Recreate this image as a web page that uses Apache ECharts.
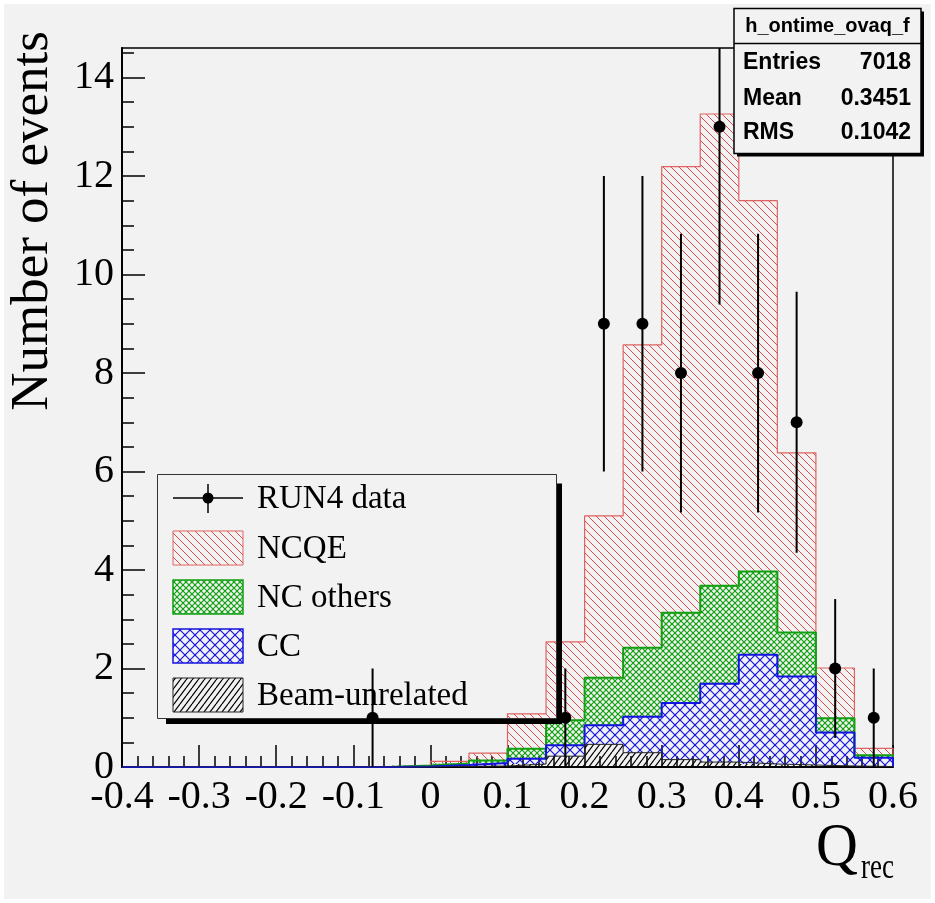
<!DOCTYPE html>
<html>
<head>
<meta charset="utf-8">
<script src="https://cdn.jsdelivr.net/npm/echarts@6/dist/echarts.min.js"></script>
<style>
  html, body { margin: 0; padding: 0; background: #ffffff; }
  #chart { width: 935px; height: 903px; }
</style>
</head>
<body>
<div id="chart"></div>
<script>
// Q_rec histogram: 20 bins of width 0.05 between -0.4 and 0.6
const binWidth = 0.05;
const binLow = [-0.40, -0.35, -0.30, -0.25, -0.20, -0.15, -0.10, -0.05, 0.00, 0.05,
                 0.10,  0.15,  0.20,  0.25,  0.30,  0.35,  0.40,  0.45, 0.50, 0.55];

// Expected events per bin, by component (bottom of the stack first)
const beamUnrelated = [0, 0, 0, 0, 0, 0, 0, 0.00, 0.01, 0.02, 0.06, 0.22, 0.46, 0.29, 0.15, 0.10, 0.06, 0.04, 0.02, 0.01];
const ccEvents      = [0, 0, 0, 0, 0, 0, 0, 0.01, 0.03, 0.06, 0.11, 0.22, 0.39, 0.73, 1.15, 1.59, 2.22, 1.80, 0.68, 0.18];
const ncOthers      = [0, 0, 0, 0, 0, 0, 0, 0.02, 0.03, 0.05, 0.20, 0.51, 0.96, 1.40, 1.83, 1.99, 1.69, 0.89, 0.29, 0.05];
const ncqeEvents    = [0, 0, 0, 0, 0, 0, 0, 0.00, 0.045, 0.15, 0.71, 1.59, 3.29, 6.15, 9.06, 9.58, 7.53, 3.65, 1.02, 0.14];

// RUN4 data: bin centres, counts and statistical errors
const dataCenters = [-0.075, 0.175, 0.225, 0.275, 0.325, 0.375, 0.425, 0.475, 0.525, 0.575];
const dataCounts  = [1, 1, 9, 9, 8, 13, 8, 7, 2, 1];
const dataErrors  = [1, 1, 3, 3, 2.83, 3.61, 2.83, 2.65, 1.41, 1];

// Axis ticks and texts
const yMajorTicks = [0, 2, 4, 6, 8, 10, 12, 14];
const legendLabels = ['RUN4 data', 'NCQE', 'NC others', 'CC', 'Beam-unrelated'];
const statsTitle = 'h_ontime_ovaq_f';
const statsRows = [['Entries', '7018'], ['Mean', '0.3451'], ['RMS', '0.1042']];

const BG = '#f2f2f2';
const RED = '#e04a4a', RED_LINE = '#e06262';
const GREEN = '#10a010';
const BLUE = '#1414e0';
const SERIF = '"Liberation Serif", "DejaVu Serif", serif';
const SANS = '"Liberation Sans", Arial, sans-serif';

// Hatch tiles drawn on a small canvas and used as repeating fill patterns
function hatchTile(w, h, color, dirs, lw) {
  const c = document.createElement('canvas');
  c.width = w; c.height = h;
  const g = c.getContext('2d');
  g.strokeStyle = color;
  g.lineWidth = lw;
  dirs.forEach(function (d) {
    [-w, 0, w].forEach(function (dx) {
      g.beginPath();
      if (d === 'down') { g.moveTo(dx, 0); g.lineTo(dx + w, h); }
      else { g.moveTo(dx, h); g.lineTo(dx + w, 0); }
      g.stroke();
    });
  });
  return { image: c, repeat: 'repeat' };
}
const patRed = hatchTile(8, 8, RED, ['down'], 1);
const patGreen = hatchTile(6, 6, GREEN, ['down', 'up'], 1.2);
const patBlue = hatchTile(10, 10, BLUE, ['down', 'up'], 1.2);
const patBlack = hatchTile(6, 8, '#000', ['up'], 1.2);

// Cumulative stack levels
function addArr(a, b) { return a.map(function (v, i) { return v + b[i]; }); }
const lvl0 = binLow.map(function () { return 0; });
const lvlBeam = addArr(lvl0, beamUnrelated);
const lvlCC = addArr(lvlBeam, ccEvents);
const lvlNC = addArr(lvlCC, ncOthers);
const lvlQE = addArr(lvlNC, ncqeEvents);

function bandSeries(name, lower, upper, pattern) {
  return {
    type: 'custom', name: name, clip: true, z: 2, silent: true, animation: false,
    data: binLow.map(function (x, i) { return [x, x + binWidth, lower[i], upper[i]]; }),
    encode: { x: [0, 1], y: [2, 3] },
    renderItem: function (params, api) {
      const lo = api.value(2), hi = api.value(3);
      if (hi - lo <= 0) return null;
      const p0 = api.coord([api.value(0), hi]);
      const p1 = api.coord([api.value(1), lo]);
      return {
        type: 'rect',
        shape: { x: p0[0], y: p0[1], width: p1[0] - p0[0], height: p1[1] - p0[1] },
        style: { fill: pattern, stroke: null }
      };
    }
  };
}

function outlineSeries(upper, color, width) {
  const pts = [[binLow[0], 0]];
  upper.forEach(function (h, i) { pts.push([binLow[i], h], [binLow[i] + binWidth, h]); });
  pts.push([binLow[binLow.length - 1] + binWidth, 0]);
  return {
    type: 'line', data: pts, symbol: 'none', showSymbol: false, silent: true, animation: false,
    lineStyle: { color: color, width: width }, z: 3, clip: true
  };
}

const yMinorTicks = [];
for (let v = 0.5; v < 14.6; v += 0.5) { if (v % 2 !== 0) yMinorTicks.push(v); }

const chart = echarts.init(document.getElementById('chart'), null, { renderer: 'canvas' });

// Legend drawn inside the frame, with a drop shadow
const legendX = 157.5, legendY = 474.5, legendW = 399, legendH = 244;
const rowY = [498, 548, 597, 646, 695];
const sampleX = 173, sampleW = 70, sampleH = 34;
const legendGraphics = [
  { type: 'rect', shape: { x: legendX + legendW, y: legendY + 9, width: 5.5, height: legendH - 3.5 }, style: { fill: '#000' }, z: 5 },
  { type: 'rect', shape: { x: legendX + 8.5, y: legendY + legendH, width: legendW - 3, height: 5.5 }, style: { fill: '#000' }, z: 5 },
  { type: 'rect', shape: { x: legendX, y: legendY, width: legendW, height: legendH }, style: { fill: null, stroke: '#333', lineWidth: 1 }, z: 5 },
  { type: 'line', shape: { x1: sampleX, y1: rowY[0], x2: sampleX + sampleW, y2: rowY[0] }, style: { stroke: '#000', lineWidth: 1.5 }, z: 5 },
  { type: 'line', shape: { x1: sampleX + 35, y1: rowY[0] - 14, x2: sampleX + 35, y2: rowY[0] + 15 }, style: { stroke: '#000', lineWidth: 1.5 }, z: 5 },
  { type: 'circle', shape: { cx: sampleX + 35, cy: rowY[0], r: 5.5 }, style: { fill: '#000' }, z: 5 }
];
const samplePatterns = [[patRed, RED_LINE, 1], [patGreen, GREEN, 1.5], [patBlue, BLUE, 1.5], [patBlack, '#222', 1]];
samplePatterns.forEach(function (s, k) {
  const cy = rowY[k + 1];
  legendGraphics.push({ type: 'rect', shape: { x: sampleX, y: cy - sampleH / 2, width: sampleW, height: sampleH },
    style: { fill: s[0], stroke: s[1], lineWidth: s[2] }, z: 5 });
});
legendLabels.forEach(function (t, k) {
  legendGraphics.push({ type: 'text', x: 257, y: rowY[k] + 1, z: 6,
    style: { text: t, font: '33px ' + SERIF, fill: '#000', align: 'left', verticalAlign: 'middle' } });
});

// Statistics box in the top right corner
const sbX = 734, sbY = 8.5, sbW = 187, sbH = 145;
const statsGraphics = [
  { type: 'rect', shape: { x: sbX + 3, y: sbY + 3, width: sbW, height: sbH }, style: { fill: '#000' }, z: 20 },
  { type: 'rect', shape: { x: sbX, y: sbY, width: sbW, height: sbH }, style: { fill: BG, stroke: '#000', lineWidth: 1.5 }, z: 21 },
  { type: 'line', shape: { x1: sbX, y1: 43.5, x2: sbX + sbW, y2: 43.5 }, style: { stroke: '#000', lineWidth: 1.5 }, z: 21 },
  { type: 'text', x: sbX + sbW / 2, y: 26.5, z: 22,
    style: { text: statsTitle, font: 'bold 20px ' + SANS, fill: '#000', align: 'center', verticalAlign: 'middle' } }
];
const statsRowY = [63, 99, 133];
statsRows.forEach(function (r, k) {
  statsGraphics.push({ type: 'text', x: 743, y: statsRowY[k], z: 22,
    style: { text: r[0], font: 'bold 23px ' + SANS, fill: '#000', align: 'left', verticalAlign: 'middle' } });
  statsGraphics.push({ type: 'text', x: 911, y: statsRowY[k], z: 22,
    style: { text: r[1], font: 'bold 23px ' + SANS, fill: '#000', align: 'right', verticalAlign: 'middle' } });
});

// Axis titles and the thin white page margin
const titleGraphics = [
  { type: 'rect', shape: { x: 0, y: 0, width: 935, height: 4 }, style: { fill: '#ffffff' }, z: 0 },
  { type: 'rect', shape: { x: 0, y: 0, width: 4, height: 903 }, style: { fill: '#ffffff' }, z: 0 },
  { type: 'rect', shape: { x: 931, y: 0, width: 4, height: 903 }, style: { fill: '#ffffff' }, z: 0 },
  { type: 'rect', shape: { x: 0, y: 899, width: 935, height: 4 }, style: { fill: '#ffffff' }, z: 0 },
  { type: 'text', x: 33, y: 221, rotation: Math.PI / 2, z: 6,
    style: { text: 'Number of events', font: '53px ' + SERIF, fill: '#000', align: 'center', verticalAlign: 'middle' } },
  { type: 'text', x: 816, y: 849, scaleY: 1.05, z: 6,
    style: { text: 'Q', font: '58px ' + SERIF, fill: '#000', align: 'left', verticalAlign: 'middle' } },
  { type: 'text', x: 861, y: 868, scaleY: 1.35, z: 6,
    style: { text: 'rec', font: '27px ' + SERIF, fill: '#000', align: 'left', verticalAlign: 'middle' } }
];

const axisFont = { fontFamily: SERIF, fontSize: 40, color: '#000' };

chart.setOption({
  backgroundColor: BG,
  animation: false,
  grid: { left: 122, right: 42, top: 48, bottom: 136, show: true, borderColor: '#000', borderWidth: 1.5, backgroundColor: 'transparent' },
  xAxis: {
    type: 'value', min: -0.4, max: 0.6, interval: 0.1,
    axisLine: { onZero: false, lineStyle: { color: '#000', width: 2 } },
    axisTick: { inside: true, length: 22, lineStyle: { color: '#000', width: 1.5 } },
    minorTick: { show: true, splitNumber: 5, length: 11, lineStyle: { color: '#000', width: 1.5 } },
    splitLine: { show: false },
    axisLabel: Object.assign({ margin: 10, formatter: function (v) { return String(Number(v.toFixed(2))); } }, axisFont)
  },
  yAxis: [
    {
      type: 'value', min: 0, max: 14.6, position: 'left',
      axisLine: { onZero: false, lineStyle: { color: '#000', width: 2 } },
      axisTick: { inside: true, length: 23, customValues: yMajorTicks, lineStyle: { color: '#000', width: 1.5 } },
      splitLine: { show: false },
      axisLabel: Object.assign({ margin: 8, customValues: yMajorTicks }, axisFont)
    },
    {
      type: 'value', min: 0, max: 14.6, position: 'left',
      axisLine: { show: false, onZero: false },
      axisTick: { inside: true, length: 12, customValues: yMinorTicks, lineStyle: { color: '#000', width: 1.5 } },
      splitLine: { show: false },
      axisLabel: { show: false }
    }
  ],
  graphic: { elements: titleGraphics.concat(legendGraphics, statsGraphics) },
  series: [
    bandSeries('NCQE', lvlNC, lvlQE, patRed),
    bandSeries('NC others', lvlCC, lvlNC, patGreen),
    bandSeries('CC', lvlBeam, lvlCC, patBlue),
    bandSeries('Beam-unrelated', lvl0, lvlBeam, patBlack),
    outlineSeries(lvlQE, RED_LINE, 1.2),
    outlineSeries(lvlNC, GREEN, 2),
    outlineSeries(lvlCC, BLUE, 2),
    outlineSeries(lvlBeam, '#222', 1),
    {
      type: 'custom', name: 'RUN4 data errors', clip: true, z: 10, silent: true,
      data: dataCenters.map(function (x, i) { return [x, dataCounts[i] - dataErrors[i], dataCounts[i] + dataErrors[i]]; }),
      encode: { x: 0, y: [1, 2] },
      renderItem: function (params, api) {
        const a = api.coord([api.value(0), api.value(1)]);
        const b = api.coord([api.value(0), api.value(2)]);
        return { type: 'line', shape: { x1: a[0], y1: a[1], x2: b[0], y2: b[1] }, style: { stroke: '#000', lineWidth: 2 } };
      }
    },
    {
      type: 'scatter', name: 'RUN4 data', z: 11, silent: true,
      data: dataCenters.map(function (x, i) { return [x, dataCounts[i]]; }),
      symbol: 'circle', symbolSize: 12, itemStyle: { color: '#000', opacity: 1 }
    }
  ]
});
</script>
</body>
</html>
